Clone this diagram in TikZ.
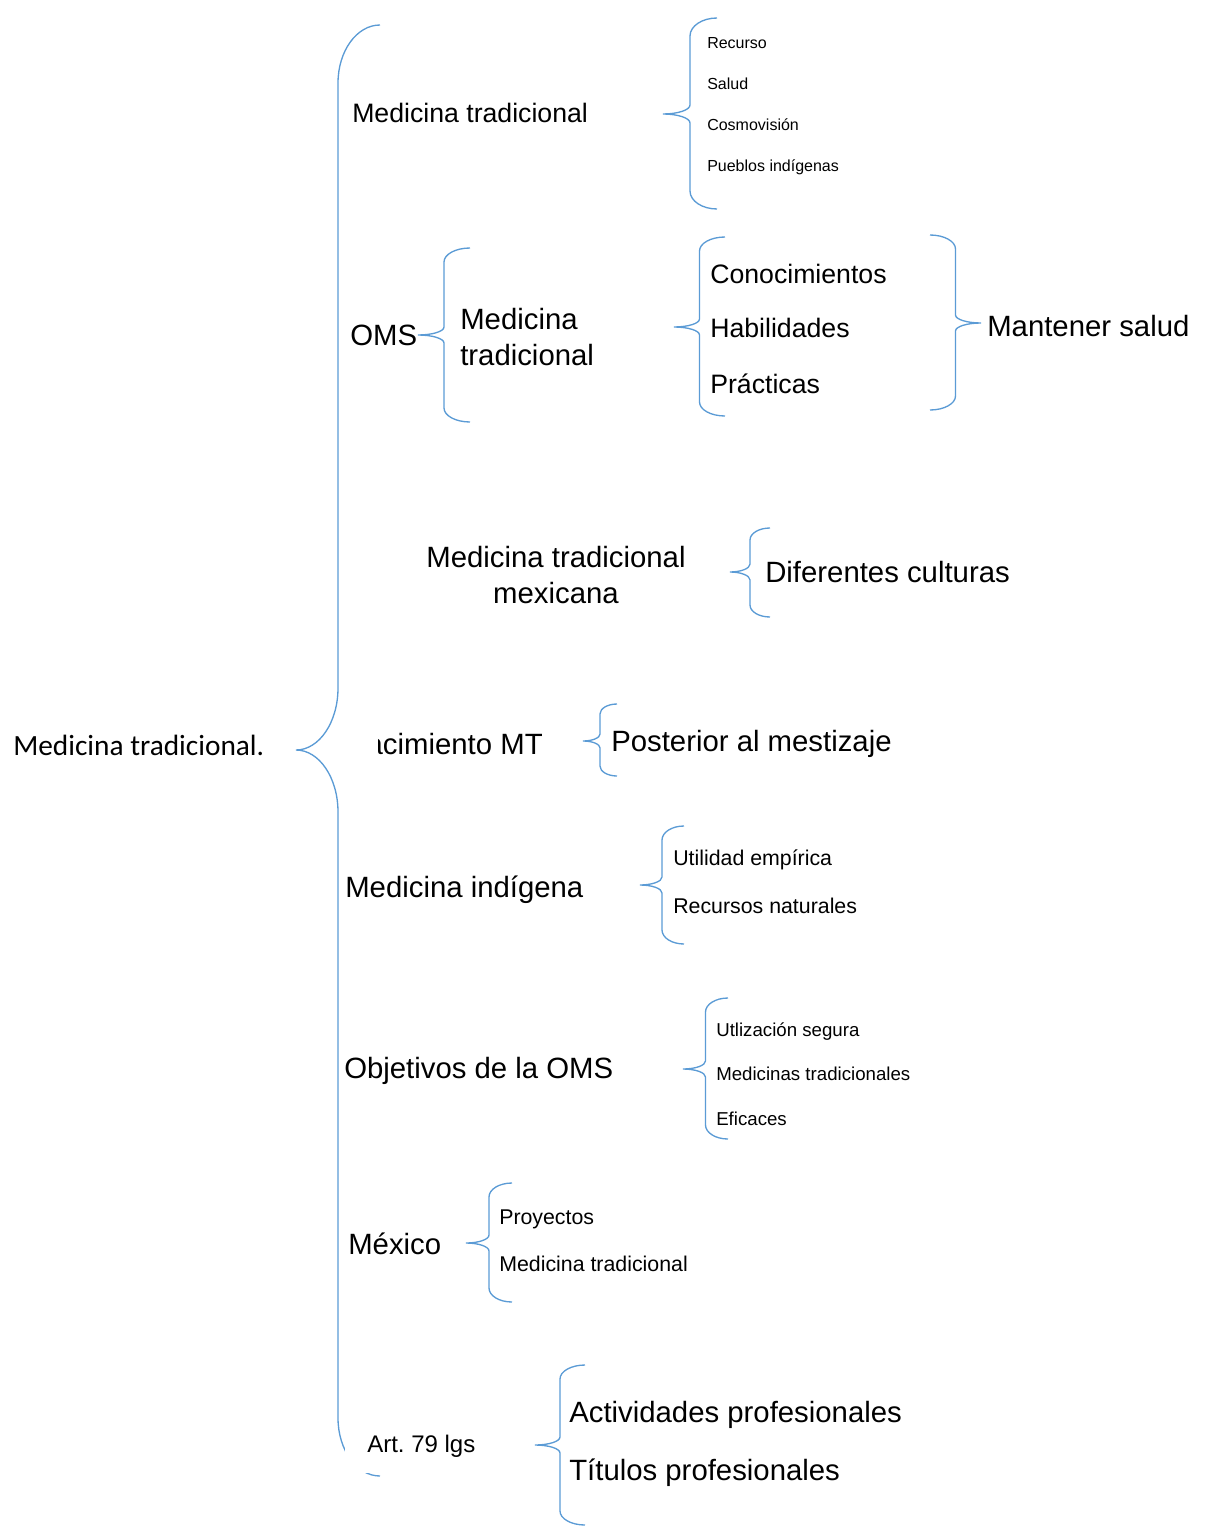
\documentclass[tikz,border=0pt]{standalone}
\usepackage{fontspec}
\setmainfont{Liberation Sans}
\newfontfamily\calibrifont{Carlito}
\usepackage{xcolor}
\definecolor{braceblue}{HTML}{5B9BD5}

% curly brace: tip x, end x, top y, tip y, bottom y, corner radius, tip radius
\newcommand{\bracel}[7]{%
  \draw [brc] (#2,#3) .. controls ({#2-0.276*(#2-#1)},#3) and ({(#1+#2)/2},{#3+0.448*#6}) .. ({(#1+#2)/2},{#3+#6})
    -- ({(#1+#2)/2},{#4-#7}) .. controls ({(#1+#2)/2},{#4-0.448*#7}) and ({#1+0.276*(#2-#1)},#4) .. (#1,#4)
    .. controls ({#1+0.276*(#2-#1)},#4) and ({(#1+#2)/2},{#4+0.448*#7}) .. ({(#1+#2)/2},{#4+#7})
    -- ({(#1+#2)/2},{#5-#6}) .. controls ({(#1+#2)/2},{#5-0.448*#6}) and ({#2-0.276*(#2-#1)},#5) .. (#2,#5);}

\tikzset{
  brc/.style={line width=1pt, draw=braceblue},
  txt/.style={inner sep=0pt, anchor=west, text depth=0pt},
  big/.style={txt, font=\fontsize{22}{27}\selectfont, text height=15.8pt},
  large/.style={txt, font=\fontsize{20}{24}\selectfont, text height=14.3pt},
  art/.style={txt, font=\fontsize{18}{22}\selectfont, text height=12.9pt},
  mid/.style={txt, font=\fontsize{16}{19}\selectfont, text height=11.5pt},
  sml/.style={txt, font=\fontsize{14}{17}\selectfont, text height=10pt},
  tiny/.style={txt, font=\fontsize{12}{14}\selectfont, text height=8.6pt}
}

\begin{document}
\begin{tikzpicture}[x=0.75pt, y=-0.75pt]
\useasboundingbox (0,0) rectangle (1204,1534);

\node (root) at (13,746) [txt, font=\calibrifont\fontsize{22}{27}\selectfont, text height=14.2pt] {Medicina tradicional.};
\bracel{296}{380}{25}{750}{1476}{58}{62}

\node (mt) at (352,113) [large] {Medicina tradicional};
\bracel{663}{717}{18}{114}{209}{18}{9}
\node (rec) at (707,43) [tiny] {Recurso};
\node (sal) at (707,84) [tiny] {Salud};
\node (cos) at (707,125) [tiny] {Cosmovisión};
\node (pue) at (707,166) [tiny] {Pueblos indígenas};

\node (oms) at (350,335) [big] {OMS};
\bracel{418}{470}{248}{335}{422}{14}{8}
\node (omsmt) at (460,355) [big, align=left] {Medicina\\tradicional};
\bracel{674}{725}{237}{327}{416}{14}{8}
\node (con) at (710,274) [large] {Conocimientos};
\node (hab) at (710,328) [large] {Habilidades};
\node (pra) at (710,384) [large] {Prácticas};
\bracel{981}{930}{235}{323}{410}{14}{8}
\node (man) at (987,326) [big] {Mantener salud};

\node (mtm) at (556,593) [big, anchor=center, align=center] {Medicina tradicional\\mexicana};
\bracel{730}{770}{528}{572}{617}{12}{8}
\node (dif) at (765,572) [big] {Diferentes culturas};

\begin{scope}
\clip (378,700) rectangle (600,790);
\node (nac) at (543,744) [big, anchor=east] {Nacimiento MT};
\end{scope}
\bracel{583}{617}{704}{741}{776}{10}{7}
\node (pos) at (611,741) [big] {Posterior al mestizaje};

\node (mind) at (345,887) [big] {Medicina indígena};
\bracel{640}{684}{826}{885}{944}{14}{8}
\node (uti) at (673,858) [mid] {Utilidad empírica};
\node (rnat) at (673,906) [mid] {Recursos naturales};

\node (obj) at (344,1068) [big] {Objetivos de la OMS};
\bracel{683}{728}{998}{1069}{1139}{14}{8}
\node (seg) at (716,1030) [sml] {Utlización segura};
\node (mts) at (716,1074) [sml] {Medicinas tradicionales};
\node (efi) at (716,1119) [sml] {Eficaces};

\node (mex) at (348,1244) [big] {México};
\bracel{466}{512}{1183}{1243}{1302}{14}{8}
\node (pro) at (499,1217) [mid] {Proyectos};
\node (mexmt) at (499,1264) [mid] {Medicina tradicional};

\fill [white] (345,1416) rectangle (528,1473);
\node (art) at (367,1444) [art] {Art.\ 79 lgs};
\bracel{535}{585}{1365}{1445}{1525}{14}{8}
\node (act) at (569,1412) [big] {Actividades profesionales};
\node (tit) at (569,1470) [big] {Títulos profesionales};
\end{tikzpicture}
\end{document}
